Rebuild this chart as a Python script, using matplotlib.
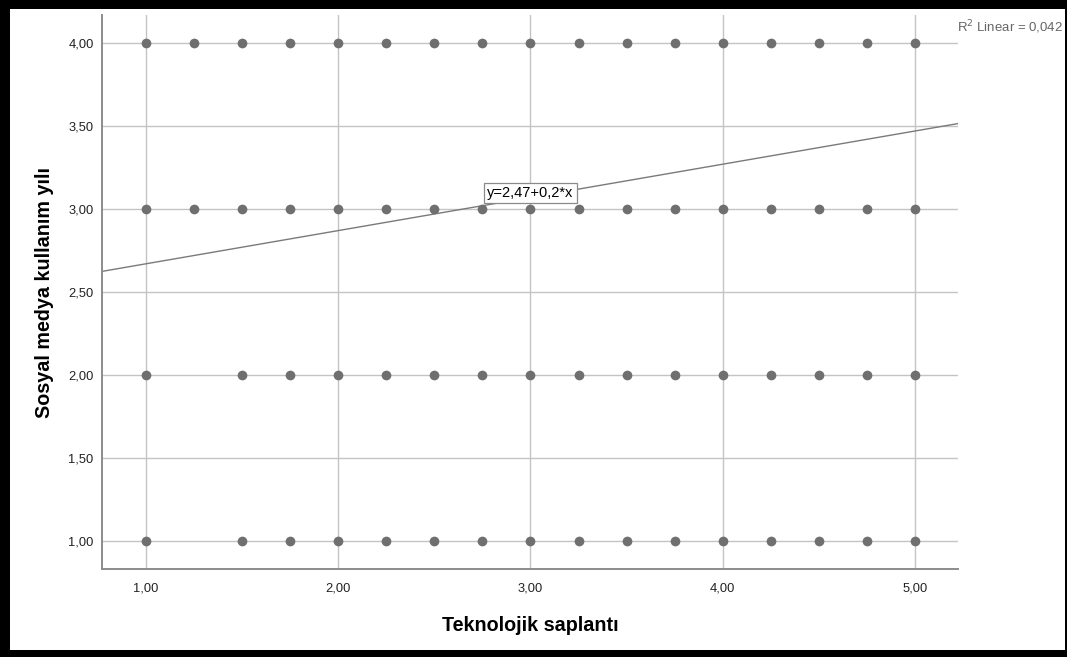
import matplotlib.pyplot as plt
from matplotlib.patches import Rectangle

plt.rcParams["font.family"] = ["Liberation Sans", "DejaVu Sans"]

# Observed (x, y) combinations for each y level
x_full = [1.00, 1.25, 1.50, 1.75, 2.00, 2.25, 2.50, 2.75, 3.00,
          3.25, 3.50, 3.75, 4.00, 4.25, 4.50, 4.75, 5.00]
x_no125 = [1.00, 1.50, 1.75, 2.00, 2.25, 2.50, 2.75, 3.00,
           3.25, 3.50, 3.75, 4.00, 4.25, 4.50, 4.75, 5.00]
y_levels = [4.0, 3.0, 2.0, 1.0]
x_by_level = [x_full, x_full, x_no125, x_no125]

# Linear fit
intercept = 2.47
slope = 0.2
r2 = "0,042"

xticks = [1, 2, 3, 4, 5]
yticks = [1.0, 1.5, 2.0, 2.5, 3.0, 3.5, 4.0]
xlim = (0.771, 5.224)
ylim = (0.831, 4.169)

fig = plt.figure(figsize=(10.67, 6.57), dpi=100, facecolor="black")
# white panel inside the black frame
fig.patches.append(Rectangle((10 / 1067, 7 / 657), 1055 / 1067, 641 / 657,
                             transform=fig.transFigure, facecolor="white",
                             edgecolor="none", zorder=-10))

ax = fig.add_axes([102 / 1067, 1 - 569 / 657, 856 / 1067, 554 / 657])
ax.set_facecolor("white")
ax.set_xlim(*xlim)
ax.set_ylim(*ylim)

ax.set_xticks(xticks)
ax.set_yticks(yticks)
ax.set_xticklabels([f"{v:.2f}".replace(".", ",") for v in xticks])
ax.set_yticklabels([f"{v:.2f}".replace(".", ",") for v in yticks])
ax.tick_params(length=0, labelsize=9.3, colors="#222222")
ax.tick_params(axis="x", pad=10)
ax.tick_params(axis="y", pad=6)

ax.grid(True, color="#c4c4c4", linewidth=1.0, zorder=0)
ax.set_axisbelow(True)
for side in ["top", "right"]:
    ax.spines[side].set_visible(False)
for side in ["left", "bottom"]:
    ax.spines[side].set_color("#8c8c8c")
    ax.spines[side].set_linewidth(1.4)

for yv, xs in zip(y_levels, x_by_level):
    ax.plot(xs, [yv] * len(xs), "o", color="#6f6f6f", markersize=7,
            markeredgewidth=0, zorder=3)

ax.plot(xlim, [intercept + slope * x for x in xlim], color="#7a7a7a",
        linewidth=1.0, zorder=2)

ax.text(3.0, 3.095, "y=2,47+0,2*x", fontsize=10.5, ha="center", va="center",
        color="black", zorder=4,
        bbox=dict(boxstyle="square,pad=0.2", facecolor="white",
                  edgecolor="#8a8a8a", linewidth=0.9))

fig.text(1063 / 1067, 1 - 27 / 657, r"R$^2$ Linear = " + r2, fontsize=9.5,
         color="#666666", ha="right", va="center")

ax.set_xlabel("Teknolojik saplantı", fontsize=14.2, fontweight="bold",
              labelpad=15)
ax.set_ylabel("Sosyal medya kullanım yılı", fontsize=14.2, fontweight="bold",
              labelpad=10)

fig.savefig("out.png", dpi=100, facecolor="black")
